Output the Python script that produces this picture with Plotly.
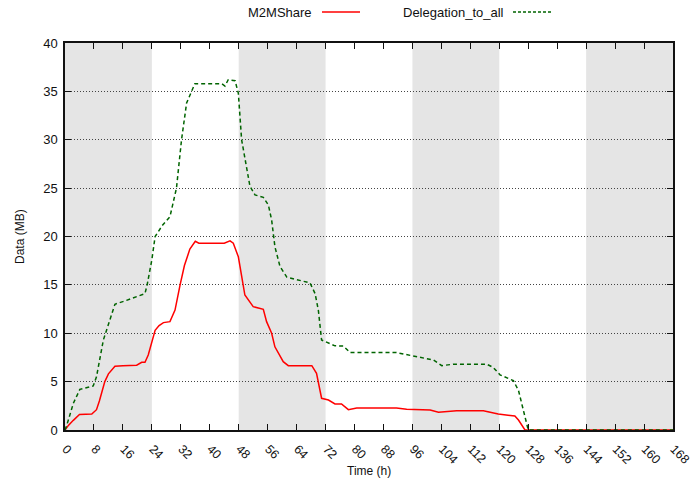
import plotly.graph_objects as go

# ---- data ----
m2m_hours = [0, 1, 2.3, 4, 7.4, 8.7, 9.5, 10.5, 11, 12, 13.8, 16, 19.8, 21.2, 22.1, 23, 24.9, 26,
             27.2, 29, 30.4, 31.8, 33, 34.5, 36, 37, 40, 44, 45.6, 46.5, 47.9, 48.8, 49.7, 52,
             54.8, 55.7, 57.1, 58, 60.3, 61.7, 68.2, 69.5, 70.9, 72.8, 74.6, 76.4, 78.3, 80.6,
             91.6, 94.4, 100.9, 103.2, 108.2, 115.6, 119.7, 124.3, 125.3, 127.1, 168]
m2m_values = [0, 0.5, 1.0, 1.6, 1.65, 2.1, 3.0, 4.5, 5.0, 5.8, 6.6, 6.65, 6.7, 7.0, 7.0, 7.75, 10.3, 10.8,
              11.1, 11.2, 12.4, 15, 17, 18.7, 19.5, 19.3, 19.3, 19.3, 19.55, 19.3, 17.9, 16, 13.95, 12.75,
              12.47, 11.2, 10, 8.6, 7.06, 6.65, 6.65, 5.86, 3.28, 3.1, 2.7, 2.7, 2.1, 2.27,
              2.27, 2.14, 2.07, 1.83, 2.0, 2.0, 1.65, 1.45, 1.03, 0, 0]

deleg_hours = [0, 0.5, 2.3, 4.1, 7.8, 8.7, 10.6, 12.4, 13.8, 17, 20, 22.1, 22.7, 24, 24.9, 27, 29,
               30.8, 32.2, 33.6, 35.9, 43.3, 44.2, 45.1, 47, 47.9, 48.8, 50.2, 51.1, 52.5, 54.8,
               56.2, 57.1, 58, 59.4, 61.3, 64.9, 67.7, 69.1, 70, 70.9, 72.3, 74.6, 76.9, 78.8,
               91.6, 96.2, 101.8, 104.1, 107.3, 116.5, 118.3, 120.2, 123.9, 125.3, 128, 168]
deleg_values = [0, 0.5, 2.75, 4.2, 4.55, 5.5, 9.3, 11.5, 13.0, 13.4, 13.8, 14.1, 15, 17.6, 20, 21.2, 22.05,
                25, 30, 33.8, 35.8, 35.8, 35.55, 36.2, 36.1, 34.8, 30, 26.9, 25.2, 24.3, 24.05,
                23.25, 21.7, 18.95, 16.9, 15.8, 15.5, 15.2, 14.1, 12.4, 9.3, 9.1, 8.7, 8.68, 8.0,
                8.0, 7.65, 7.23, 6.65, 6.8, 6.8, 6.48, 5.7, 5.1, 4.1, 0, 0]

band_starts = [0, 48, 96, 144]
band_ends = [24, 72, 120, 168]
x_ticks = list(range(0, 169, 8))
y_ticks = list(range(0, 41, 5))

FONT = "Liberation Sans, Arial, Helvetica, sans-serif"
PW, PH = 608, 387  # plot area size in px

fig = go.Figure()
fig.add_trace(go.Scatter(x=m2m_hours, y=m2m_values, mode="lines", name="M2MShare",
                         line=dict(color="#ff0000", width=1.5), showlegend=False))
fig.add_trace(go.Scatter(x=deleg_hours, y=deleg_values, mode="lines", name="Delegation_to_all",
                         line=dict(color="#006400", width=1.5, dash="4px,3px"), showlegend=False))

for s, e in zip(band_starts, band_ends):
    fig.add_shape(type="rect", xref="x", yref="paper", x0=s, x1=e, y0=0, y1=1,
                  fillcolor="#e5e5e5", line=dict(width=0), layer="below")

# custom legend (text left, sample right)
ly = 1 + 31 / PH
fig.add_annotation(xref="paper", yref="paper", x=(314 - 65) / PW, y=ly,
                   text="M2MShare", showarrow=False, xanchor="right", yanchor="middle",
                   font=dict(family=FONT, size=13, color="#111"))
fig.add_shape(type="line", xref="paper", yref="paper", x0=(322 - 65) / PW, x1=(360 - 65) / PW,
              y0=ly, y1=ly, line=dict(color="#ff0000", width=1.5))
fig.add_annotation(xref="paper", yref="paper", x=(506 - 65) / PW, y=ly,
                   text="Delegation_to_all", showarrow=False, xanchor="right", yanchor="middle",
                   font=dict(family=FONT, size=13, color="#111"))
fig.add_shape(type="line", xref="paper", yref="paper", x0=(513 - 65) / PW, x1=(552 - 65) / PW,
              y0=ly, y1=ly, line=dict(color="#006400", width=1.5, dash="3px,2px"))

# axis titles
fig.add_annotation(xref="paper", yref="paper", x=0.5, y=-(471 - 430) / PH,
                   text="Time (h)", showarrow=False, xanchor="center", yanchor="middle",
                   font=dict(family=FONT, size=12, color="#111"))
fig.add_annotation(xref="paper", yref="paper", x=-(65 - 20) / PW, y=(430 - 237) / PH,
                   text="Data (MB)", showarrow=False, xanchor="center", yanchor="middle",
                   textangle=-90, font=dict(family=FONT, size=12, color="#111"))

fig.update_layout(
    width=692, height=484,
    margin=dict(l=65, r=19, t=43, b=54),
    paper_bgcolor="white", plot_bgcolor="white",
    font=dict(family=FONT, size=13, color="#111"),
    xaxis=dict(range=[0, 168], tickvals=x_ticks, ticktext=[str(v) for v in x_ticks],
               tickangle=45, ticks="inside", ticklen=6, tickcolor="#111",
               tickfont=dict(size=12.5),
               showgrid=False, zeroline=False, showline=True, linecolor="#111", linewidth=1.5,
               mirror="ticks", automargin=False, ticklabelstandoff=5, ticklabelshift=1,
               ticklabeloverflow="allow"),
    yaxis=dict(range=[0, 40], tickvals=y_ticks, ticks="inside", ticklen=6, tickcolor="#111",
               showgrid=True, gridcolor="#444", griddash="1px,2px", gridwidth=1,
               zeroline=False, showline=True, linecolor="#111", linewidth=1.5, mirror="ticks",
               automargin=False, ticklabelstandoff=3),
)

fig.write_html("out.html")
